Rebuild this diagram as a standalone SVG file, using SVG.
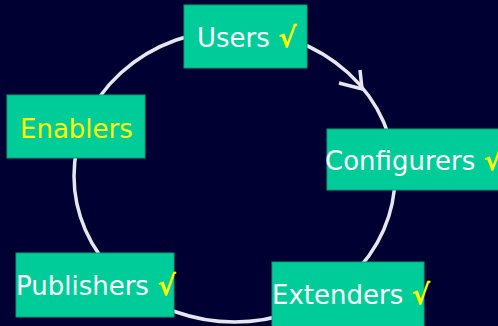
<svg xmlns="http://www.w3.org/2000/svg" width="498" height="326" viewBox="0 0 498 326">
  <style>
    .box { fill: #00cc99; stroke: #00a07a; stroke-width: 1; }
    .lbl { font-family: "DejaVu Sans", Verdana, sans-serif; font-size: 26px; fill: #ffffff; }
    .lbl-y { fill: #ffff00; }
    .tick { fill: #ffff00; font-weight: bold; font-size: 28px; }
    .ring { fill: none; stroke: #e6e6ee; stroke-width: 3.5; }
  </style>
  <rect x="0" y="0" width="498" height="326" fill="#000033"/>

  <g id="connectors">
    <ellipse class="ring" cx="234.5" cy="176" rx="160.5" ry="146"/>
    <polyline class="ring" points="339,83 362,89 360,70" stroke-linejoin="miter"/>
  </g>

  <g id="users">
    <rect class="box" x="184" y="5" width="123" height="63"/>
    <text class="lbl" x="197" y="47">Users <tspan class="tick">√</tspan></text>
  </g>

  <g id="enablers">
    <rect class="box" x="7" y="95" width="138" height="63"/>
    <text class="lbl lbl-y" x="20" y="138">Enablers</text>
  </g>

  <g id="configurers">
    <rect class="box" x="327" y="129" width="175" height="61"/>
    <text class="lbl" x="325" y="170">Configurers <tspan class="tick">√</tspan></text>
  </g>

  <g id="publishers">
    <rect class="box" x="16" y="253" width="158" height="64"/>
    <text class="lbl" x="16" y="295">Publishers <tspan class="tick">√</tspan></text>
  </g>

  <g id="extenders">
    <rect class="box" x="272" y="262" width="152" height="70"/>
    <text class="lbl" x="272" y="304">Extenders <tspan class="tick">√</tspan></text>
  </g>
</svg>
